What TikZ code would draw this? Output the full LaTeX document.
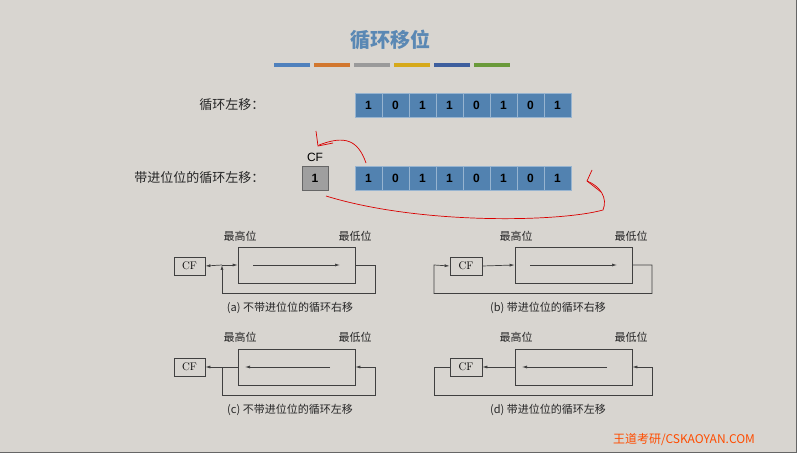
\documentclass[tikz,border=0pt]{standalone}
\usepackage{fontspec}
\newfontfamily\cjk{Noto Sans CJK SC}
\setsansfont{Liberation Sans}
\usetikzlibrary{arrows.meta}
\definecolor{bgc}{HTML}{D8D5D0}
\definecolor{cellc}{HTML}{5282B0}
\definecolor{titc}{HTML}{5A88B4}
\begin{document}
\begin{tikzpicture}[x=1pt,y=-1pt,
  cell/.style={draw=cellc!60!white,fill=cellc,minimum width=27pt,minimum height=24pt,inner sep=0pt,font=\sffamily\bfseries\fontsize{12}{12}\selectfont},
  lbl/.style={font=\cjk\fontsize{13}{13}\selectfont,anchor=east,text=black!85},
  bx/.style={draw=black!75,line width=0.7pt,inner sep=0pt},
  ln/.style={draw=black!75,line width=0.7pt},
  ar/.style={ln,-{Latex[length=5pt,width=3pt]}},
  sm/.style={font=\cjk\fontsize{11}{11}\selectfont,text=black!85},
  captxt/.style={font=\cjk\fontsize{11}{11}\selectfont,text=black!85},
  redpen/.style={draw=red!85!black,line width=0.7pt}]
\useasboundingbox (0,0) rectangle (807,468);
\fill[white] (0,0) rectangle (807,468);
\fill[bgc] (0,0) rectangle (796,452);
\draw[black!60,line width=1pt] (796,0) -- (796,452) -- (0,452);
\node[font=\cjk\fontsize{20}{20}\selectfont\bfseries,text=titc] (title) at (390,40) {循环移位};
\foreach \c [count=\i] in {4F81BD,D2772E,9A9A9A,D6A91A,3E5F9E,6A9A3A}{
  \definecolor{barc}{HTML}{\c}
  \fill[barc] (274+\i*40-40,63) rectangle (310+\i*40-40,67);}
\node[lbl] (l1) at (268,105) {循环左移：};
\node[lbl] (l2) at (268,178) {带进位位的循环左移：};
\foreach \b [count=\i] in {1,0,1,1,0,1,0,1}{
  \node[cell] (t\i) at (355+\i*27-13.5,105) {\b};
  \node[cell] (b\i) at (355+\i*27-13.5,178) {\b};}
\node[draw=black!60,fill=gray!75,minimum width=26pt,minimum height=24pt,inner sep=0pt,font=\sffamily\bfseries\fontsize{12}{12}\selectfont] (cf) at (315,178) {1};
\node[font=\sffamily\fontsize{12}{12}\selectfont] (cfl) at (315,157) {CF};
\draw[redpen] (366,163) .. controls (358,140) and (345,135) .. (319,145);
\draw[redpen] (316,131) -- (318,146) -- (333,143);
\draw[redpen] (326,196) .. controls (420,225) and (560,222) .. (603,210) .. controls (608,198) and (600,186) .. (587,181);
\draw[redpen] (592,170) -- (587,181) -- (601,192);
% (a)
\node[bx,minimum width=31pt,minimum height=18pt,font=\fontsize{11}{11}\selectfont] (ca) at (189.5,266) {CF};
\node[bx,minimum width=117pt,minimum height=36pt] (ma) at (296.5,265) {};
\node[sm] at (240,236) {最高位}; \node[sm] at (355,236) {最低位};
\draw[ar] (253,265) -- (340,265);
\coordinate (ja) at (222,265);
\draw[ar] (ja) -- (ca.east);
\draw[ar] (ja) -- (ma.west);
\draw[ar] (ma.east) -- (375,265) -- (375,293) -- (222,293) -- (ja);
\node[captxt] at (290,308) {(a) 不带进位位的循环右移};
% (b)
\node[bx,minimum width=32pt,minimum height=18pt,font=\fontsize{11}{11}\selectfont] (cb) at (466,266) {CF};
\node[bx,minimum width=117pt,minimum height=36pt] (mb) at (573.5,265) {};
\node[sm] at (516,236) {最高位}; \node[sm] at (631,236) {最低位};
\draw[ar] (530,265) -- (617,265);
\draw[ar] (cb.east) -- (mb.west);
\draw[ar] (mb.east) -- (652,265) -- (652,293.5) -- (434,293.5) -- (434,265) -- (cb.west);
\node[captxt] at (548,308) {(b) 带进位位的循环右移};
% (c)
\node[bx,minimum width=31pt,minimum height=18pt,font=\fontsize{11}{11}\selectfont] (cc) at (189.5,367) {CF};
\node[bx,minimum width=117pt,minimum height=36pt] (mc) at (296.5,367) {};
\node[sm] at (240,337) {最高位}; \node[sm] at (355,337) {最低位};
\draw[ar] (330,367) -- (245,367);
\draw[ar] (mc.west) -- (cc.east);
\draw[ar] (222,367) -- (222,395) -- (375,395) -- (375,367) -- (mc.east);
\node[captxt] at (290,410) {(c) 不带进位位的循环左移};
% (d)
\node[bx,minimum width=32pt,minimum height=18pt,font=\fontsize{11}{11}\selectfont] (cd) at (466,367) {CF};
\node[bx,minimum width=117pt,minimum height=36pt] (md) at (573.5,367) {};
\node[sm] at (516,337) {最高位}; \node[sm] at (631,337) {最低位};
\draw[ar] (607,367) -- (522,367);
\draw[ar] (md.west) -- (cd.east);
\draw[ar] (cd.west) -- (434,367) -- (434,395) -- (652,395) -- (652,367) -- (md.east);
\node[captxt] at (548,410) {(d) 带进位位的循环左移};
\node[font=\cjk\fontsize{12}{12}\selectfont,text=orange!60!red] (wm) at (684,440) {王道考研/CSKAOYAN.COM};
\end{tikzpicture}
\end{document}
